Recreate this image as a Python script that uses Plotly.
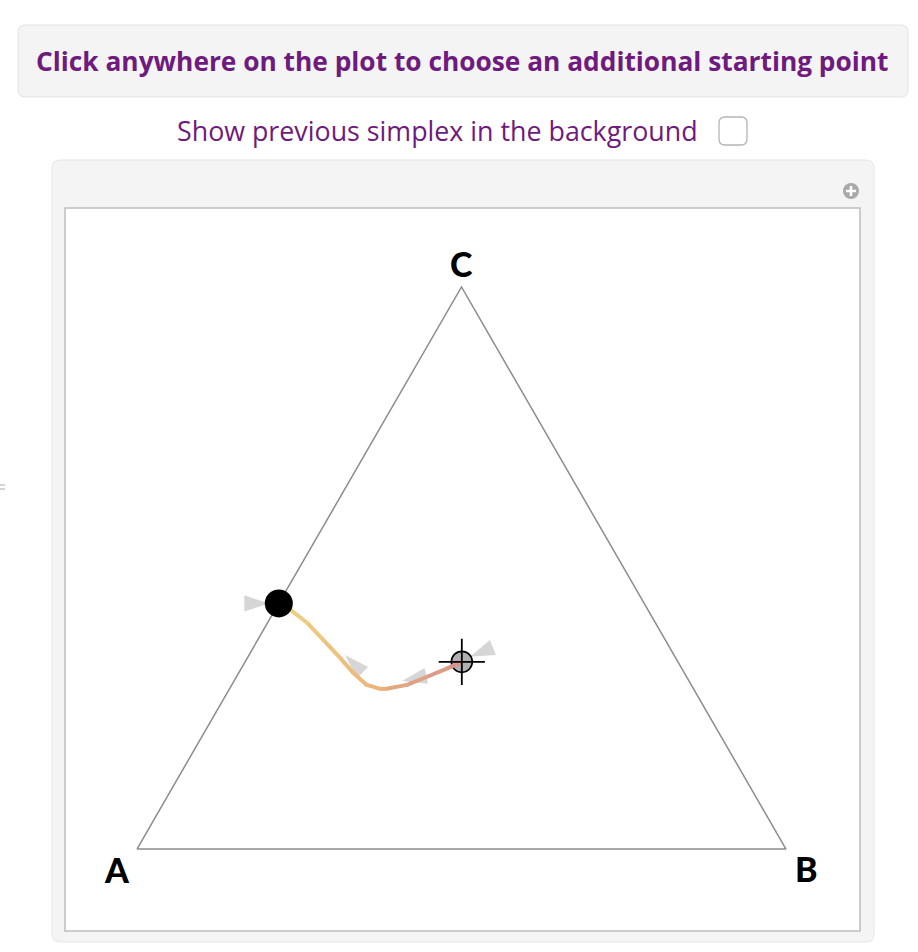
import math
import plotly.graph_objects as go

# ---------------- data ----------------
vertex_labels = ["A", "B", "C"]
vertex_a = [1.0, 0.0, 0.0]
vertex_b = [0.0, 1.0, 0.0]
vertex_c = [0.0, 0.0, 1.0]

# trajectory (barycentric shares of A, B, C) from the starting point to the end point
traj_a = [0.333, 0.362, 0.401, 0.438, 0.473, 0.483, 0.500, 0.510, 0.517, 0.527, 0.537, 0.551, 0.563]
traj_b = [0.334, 0.317, 0.293, 0.270, 0.242, 0.232, 0.208, 0.177, 0.143, 0.101, 0.060, 0.023, 0.000]
traj_c = [0.333, 0.321, 0.306, 0.292, 0.285, 0.285, 0.292, 0.313, 0.340, 0.372, 0.403, 0.426, 0.437]

# direction arrowheads (tip position, barycentric) and heading in degrees
arrow_a = [0.316, 0.442, 0.507, 0.578]
arrow_b = [0.342, 0.259, 0.148, -0.015]
arrow_c = [0.342, 0.299, 0.345, 0.437]
arrow_angle = [248, 258, 315, 90]

button_text = "Click anywhere on the plot to choose an additional starting point"
checkbox_text = "Show previous simplex in the background"

# ---------------- helpers ----------------
W, H = 918, 952
SQ3 = math.sqrt(3) / 2


def to_xy(a, b, c):
    xs = [bi + ci / 2 for bi, ci in zip(b, c)]
    ys = [ci * SQ3 for ci in c]
    return xs, ys


def px(x):
    return x / W


def py(y):
    return 1 - y / H


def rounded_rect(x0, y0, x1, y1, r):
    rx, ry = r / W, r / H
    X0, X1, Y0, Y1 = px(x0), px(x1), py(y0), py(y1)
    return (f"M{X0+rx},{Y0} L{X1-rx},{Y0} Q{X1},{Y0} {X1},{Y0-ry} "
            f"L{X1},{Y1+ry} Q{X1},{Y1} {X1-rx},{Y1} L{X0+rx},{Y1} "
            f"Q{X0},{Y1} {X0},{Y1+ry} L{X0},{Y0-ry} Q{X0},{Y0} {X0+rx},{Y0} Z")


def lerp_color(t):
    stops = [(0.0, (216, 148, 138)), (0.45, (234, 180, 122)), (1.0, (237, 210, 132))]
    for (t0, c0), (t1, c1) in zip(stops[:-1], stops[1:]):
        if t <= t1:
            f = (t - t0) / (t1 - t0)
            return "rgb(%d,%d,%d)" % tuple(round(c0[i] + f * (c1[i] - c0[i])) for i in range(3))
    return "rgb(%d,%d,%d)" % stops[-1][1]


# pixel geometry of the plot
S = 649.0            # pixels per unit side
AX, AY = 137, 849    # pixel position of vertex A
FX0, FY0, FX1, FY1 = 65, 208, 860, 931   # frame

fig = go.Figure()

vx, vy = to_xy(vertex_a, vertex_b, vertex_c)
fig.add_trace(go.Scatter(x=vx + [vx[0]], y=vy + [vy[0]], mode="lines",
                         line=dict(color="#8c8c8c", width=1.5), hoverinfo="skip"))

ax_, ay_ = to_xy(arrow_a, arrow_b, arrow_c)
fig.add_trace(go.Scatter(x=ax_, y=ay_, mode="markers",
                         marker=dict(symbol="arrow", size=26, angle=arrow_angle,
                                     color="rgb(214,214,214)", line=dict(width=0)),
                         hoverinfo="skip"))

tx, ty = to_xy(traj_a, traj_b, traj_c)
n = len(tx)

# start point circle
fig.add_trace(go.Scatter(x=[tx[0]], y=[ty[0]], mode="markers",
                         marker=dict(symbol="circle", size=21, color="#b0b0b0",
                                     line=dict(color="black", width=1.6)),
                         hoverinfo="skip"))

seg_colors = [lerp_color(i / (n - 2)) for i in range(n - 1)]
for i in range(n - 1):
    fig.add_trace(go.Scatter(x=tx[i:i + 2], y=ty[i:i + 2], mode="lines",
                             line=dict(color=seg_colors[i], width=4), hoverinfo="skip"))
fig.add_trace(go.Scatter(x=tx[1:-1], y=ty[1:-1], mode="markers",
                         marker=dict(size=4, color=seg_colors[1:], line=dict(width=0)),
                         hoverinfo="skip"))

# end point dot
fig.add_trace(go.Scatter(x=[tx[-1]], y=[ty[-1]], mode="markers",
                         marker=dict(symbol="circle", size=28, color="black", line=dict(width=0)),
                         hoverinfo="skip"))
# crosshair
fig.add_trace(go.Scatter(x=[tx[0]], y=[ty[0]], mode="markers",
                         marker=dict(symbol="cross-thin-open", size=33, color="black",
                                     line=dict(color="black", width=1.8)),
                         hoverinfo="skip"))

# vertex labels
offsets = {"A": (-20, -20), "B": (20, -19), "C": (0, 23)}
annotations = []
for lab, x, y in zip(vertex_labels, vx, vy):
    dx, dy = offsets[lab]
    annotations.append(dict(x=x, y=y, xref="x", yref="y", text=lab, showarrow=False,
                            xshift=dx, yshift=dy,
                            font=dict(family="Lato", size=34, color="black", weight=900)))

purple = "#6e1a7e"
annotations.append(dict(x=px(463), y=py(61), xref="paper", yref="paper", text=button_text,
                        showarrow=False, xanchor="center", yanchor="middle",
                        font=dict(family="Open Sans", size=26.3, color=purple, weight=700)))
annotations.append(dict(x=px(175), y=py(131), xref="paper", yref="paper", text=checkbox_text,
                        showarrow=False, xanchor="left", yanchor="middle",
                        font=dict(family="Open Sans", size=26.8, color=purple)))

shapes = [
    dict(type="path", path=rounded_rect(18, 25, 908, 97, 7), xref="paper", yref="paper",
         fillcolor="#f4f4f4", line=dict(color="#e3e3e3", width=1), layer="below"),
    dict(type="path", path=rounded_rect(719, 117, 747, 145, 6), xref="paper", yref="paper",
         fillcolor="white", line=dict(color="#b5b5b5", width=1.3), layer="below"),
    dict(type="path", path=rounded_rect(52, 160, 874, 942, 8), xref="paper", yref="paper",
         fillcolor="#f4f4f4", line=dict(color="#e6e6e6", width=1), layer="below"),
    dict(type="rect", x0=px(FX0), x1=px(FX1), y0=py(FY0), y1=py(FY1), xref="paper", yref="paper",
         fillcolor="white", line=dict(color="#bdbdbd", width=1.5), layer="below"),
    dict(type="circle", x0=px(843), x1=px(859), y0=py(183), y1=py(199), xref="paper", yref="paper",
         fillcolor="#a9a9a9", line=dict(width=0), layer="below"),
    dict(type="line", x0=px(846), x1=px(856), y0=py(191), y1=py(191), xref="paper", yref="paper",
         line=dict(color="white", width=2.5)),
    dict(type="line", x0=px(851), x1=px(851), y0=py(186), y1=py(196), xref="paper", yref="paper",
         line=dict(color="white", width=2.5)),
    dict(type="line", x0=px(0), x1=px(5), y0=py(485), y1=py(485), xref="paper", yref="paper",
         line=dict(color="#aaaaaa", width=1)),
    dict(type="line", x0=px(0), x1=px(5), y0=py(489), y1=py(489), xref="paper", yref="paper",
         line=dict(color="#aaaaaa", width=1)),
]

fig.update_layout(
    width=W, height=H, margin=dict(l=0, r=0, t=0, b=0),
    paper_bgcolor="white", plot_bgcolor="rgba(0,0,0,0)",
    showlegend=False, hovermode=False,
    xaxis=dict(domain=[px(FX0), px(FX1)], range=[(FX0 - AX) / S, (FX1 - AX) / S],
               visible=False, fixedrange=True),
    yaxis=dict(domain=[py(FY1), py(FY0)], range=[(AY - FY1) / S, (AY - FY0) / S],
               visible=False, fixedrange=True),
    annotations=annotations, shapes=shapes,
)

fig.write_html("out.html", config={"displayModeBar": False},
               post_script="document.body.style.margin='0';document.body.style.overflow='hidden';")
